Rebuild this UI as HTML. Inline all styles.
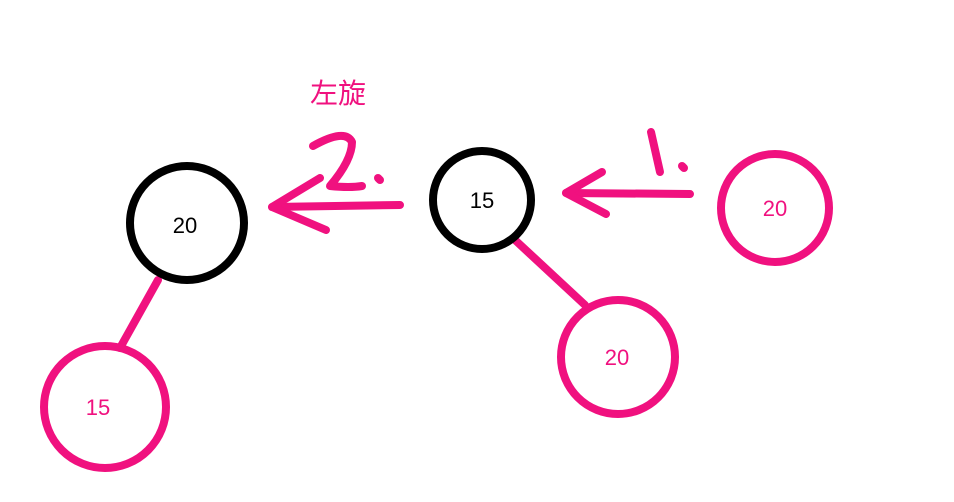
<!DOCTYPE html>
<html><head><meta charset="utf-8"><style>
html,body{margin:0;padding:0;background:#fff;}
svg{display:block;}
text{font-family:"Liberation Sans","Noto Sans CJK SC",sans-serif;}
</style></head><body>
<svg width="954" height="502" viewBox="0 0 954 502">
<g fill="none" stroke-linecap="round" stroke-linejoin="round">
  <line x1="158" y1="280" x2="120" y2="348" stroke="#f0117f" stroke-width="8"/>
  <circle cx="187" cy="223" r="57" stroke="#000" stroke-width="8"/>
  <circle cx="105" cy="407" r="61" stroke="#f0117f" stroke-width="8"/>
  <line x1="515" y1="240" x2="585" y2="305" stroke="#f0117f" stroke-width="8"/>
  <circle cx="482" cy="200" r="49" stroke="#000" stroke-width="8"/>
  <circle cx="618" cy="357" r="57" stroke="#f0117f" stroke-width="8"/>
  <circle cx="775" cy="208" r="54" stroke="#f0117f" stroke-width="8"/>
  <g stroke="#f0117f" stroke-width="8">
    <path d="M690 194 L566 193"/>
    <path d="M602 172 L566 193 L606 214"/>
    <path d="M651 132 L660 172"/>
    <path d="M682 166 L684 168"/>
  </g>
  <g stroke="#f0117f" stroke-width="8">
    <path d="M400 205 L272 207"/>
    <path d="M320 178 L272 207 L326 230"/>
    <path d="M313 146 Q345 128 352 142 Q352 160 330 186 Q350 188 362 186"/>
    <path d="M378 178 L380 180"/>
  </g>
</g>
<g font-size="22" text-anchor="middle">
  <text x="185" y="233" fill="#000">20</text>
  <text x="98" y="415" fill="#f0117f">15</text>
  <text x="482" y="208" fill="#000">15</text>
  <text x="617" y="365" fill="#f0117f">20</text>
  <text x="775" y="216" fill="#f0117f">20</text>
  <text x="338" y="103" font-size="28" fill="#f0117f">左旋</text>
</g>
</svg>
</body></html>
